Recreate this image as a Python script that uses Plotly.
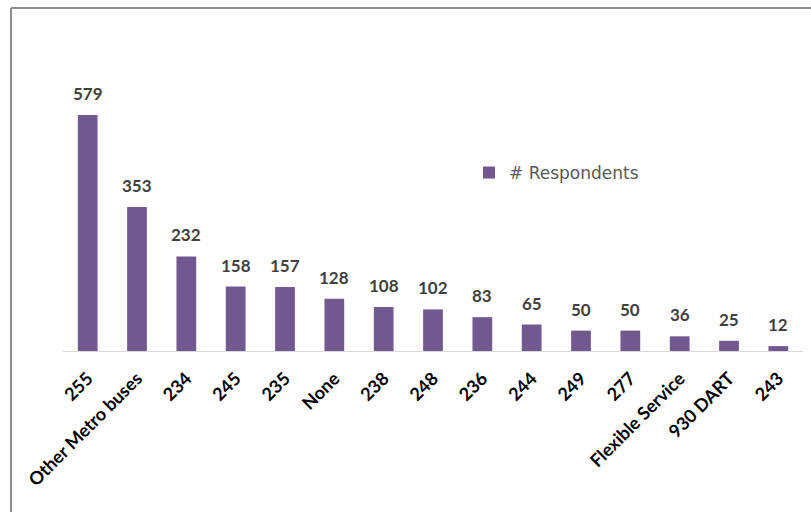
import plotly.graph_objects as go

categories = ["255", "Other Metro buses", "234", "245", "235", "None", "238", "248",
              "236", "244", "249", "277", "Flexible Service", "930 DART", "243"]
respondents = [579, 353, 232, 158, 157, 128, 108, 102, 83, 65, 50, 50, 36, 25, 12]
series_name = "# Respondents"

W, H = 811, 512
ml, mr, mt, mb = 63, 8, 60, 161
pw, ph = W - ml - mr, H - mt - mb

def px_x(x):
    return (x - ml) / pw

def px_y(y):
    return (H - mb - y) / ph

fig = go.Figure()
fig.add_trace(go.Bar(
    x=categories, y=respondents, name=series_name,
    marker=dict(color="#71588F", line=dict(width=0)),
    showlegend=True,
))

for i, v in enumerate(respondents):
    fig.add_annotation(x=i, y=v, xref="x", yref="y", text=f"<b>{v}</b>", showarrow=False,
                       yanchor="bottom", yshift=9,
                       font=dict(family="Lato", size=17, color="#404040"))

fig.update_layout(
    width=W, height=H,
    margin=dict(l=ml, r=mr, t=mt, b=mb, pad=0, autoexpand=False),
    paper_bgcolor="white", plot_bgcolor="white",
    bargap=0.6,
    showlegend=True,
    legend=dict(x=px_x(469), y=px_y(173), xanchor="left", yanchor="middle",
                font=dict(family="DejaVu Sans", size=17, color="#595959"),
                bgcolor="rgba(0,0,0,0)", itemwidth=30),
    xaxis=dict(type="category", automargin=False, range=[-0.5, len(categories) - 0.5],
               showline=True, linecolor="#d9d9d9", linewidth=1, ticks="",
               tickangle=-45, showgrid=False, ticklabelstandoff=9,
               tickfont=dict(family="Lato", size=18, color="#000000", weight="bold")),
    yaxis=dict(range=[0, ph / 0.4076], visible=False, showgrid=False, zeroline=False,
               automargin=False),
    font=dict(family="Lato"),
    shapes=[
        dict(type="line", xref="paper", yref="paper",
             x0=px_x(11), x1=px_x(811), y0=px_y(8), y1=px_y(8),
             line=dict(color="#8c8c8c", width=2)),
        dict(type="line", xref="paper", yref="paper",
             x0=px_x(11), x1=px_x(11), y0=px_y(8), y1=px_y(512),
             line=dict(color="#8c8c8c", width=2)),
    ],
)

fig.write_html("out.html", config={"displayModeBar": False},
               post_script="document.body.style.margin='0';")
